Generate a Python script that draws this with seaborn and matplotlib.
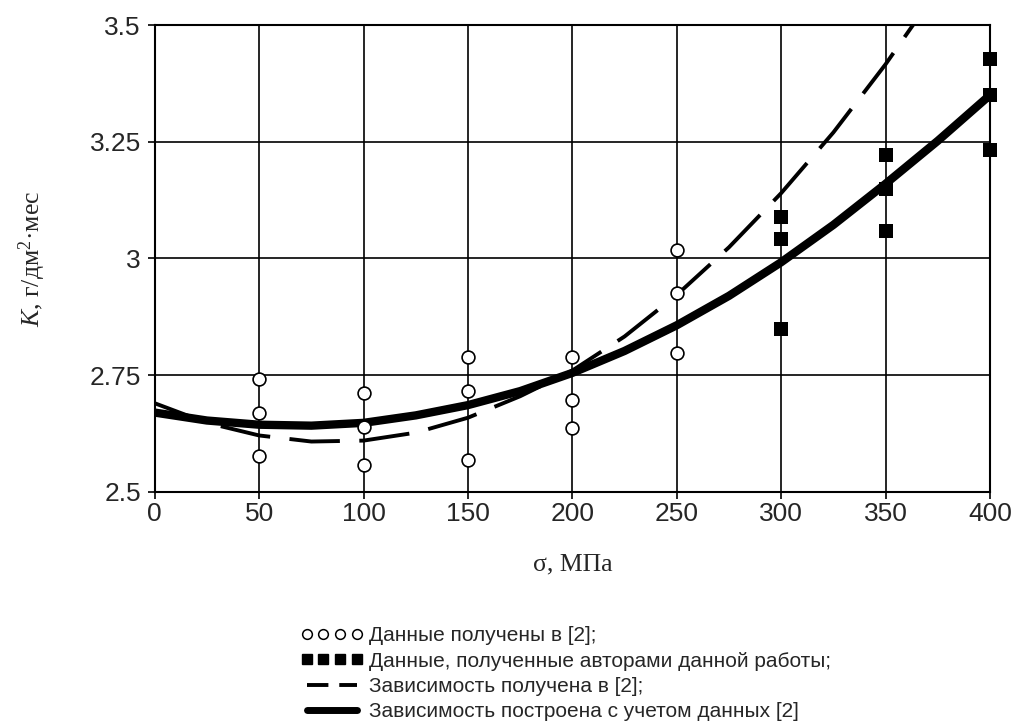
import matplotlib
matplotlib.use("Agg")
import matplotlib.pyplot as plt
from matplotlib.lines import Line2D
import seaborn as sns
import pandas as pd

# Данные из [2] (открытые кружки)
sigma_lit = [50, 50, 50, 100, 100, 100, 150, 150, 150, 200, 200, 200, 250, 250, 250]
k_lit = [2.742, 2.669, 2.577, 2.712, 2.639, 2.558, 2.789, 2.716, 2.569,
         2.789, 2.697, 2.637, 3.018, 2.926, 2.798]

# Данные авторов (чёрные квадраты)
sigma_own = [300, 300, 300, 350, 350, 350, 400, 400, 400]
k_own = [3.089, 3.042, 2.849, 3.222, 3.149, 3.059, 3.427, 3.350, 3.232]

# Кривые зависимостей
sigma_curve = [0, 25, 50, 75, 100, 125, 150, 175, 200, 225, 250, 275, 300, 325, 350, 375, 400]
k_dashed = [2.690, 2.648, 2.621, 2.608, 2.610, 2.627, 2.659, 2.705, 2.760,
            2.833, 2.922, 3.024, 3.140, 3.270, 3.416, 3.576, 3.750]
k_solid = [2.670, 2.653, 2.644, 2.642, 2.648, 2.664, 2.686, 2.716, 2.755,
           2.802, 2.857, 2.920, 2.992, 3.072, 3.160, 3.252, 3.350]

x_ticks = [0, 50, 100, 150, 200, 250, 300, 350, 400]
y_ticks = [2.5, 2.75, 3.0, 3.25, 3.5]
y_tick_labels = ["2.5", "2.75", "3", "3.25", "3.5"]

legend_labels = [
    "Данные получены в [2];",
    "Данные, полученные авторами данной работы;",
    "Зависимость получена в [2];",
    "Зависимость построена с учетом данных [2]",
]

sns.set_style("white")
plt.rcParams["font.family"] = ["Liberation Sans", "DejaVu Sans"]
plt.rcParams["mathtext.fontset"] = "custom"
plt.rcParams["mathtext.rm"] = "Liberation Serif"
plt.rcParams["mathtext.it"] = "Liberation Serif:italic"

df_lit = pd.DataFrame({"sigma": sigma_lit, "K": k_lit})
df_own = pd.DataFrame({"sigma": sigma_own, "K": k_own})
df_curve = pd.DataFrame({"sigma": sigma_curve, "dashed": k_dashed, "solid": k_solid})

fig = plt.figure(figsize=(10.18, 7.27), dpi=100)
ax = fig.add_axes([0.152, 0.3233, 0.8205, 0.6423])

# Кривые
sns.lineplot(data=df_curve, x="sigma", y="dashed", ax=ax, color="black",
             linewidth=2.8, zorder=3)
ax.lines[-1].set_dashes((13, 5))
sns.lineplot(data=df_curve, x="sigma", y="solid", ax=ax, color="black",
             linewidth=6, zorder=4)

# Точки
sns.scatterplot(data=df_lit, x="sigma", y="K", ax=ax, marker="o", s=85,
                facecolor="white", edgecolor="black", linewidth=1.2,
                zorder=5, clip_on=False)
sns.scatterplot(data=df_own, x="sigma", y="K", ax=ax, marker="s", s=110,
                color="black", edgecolor="black", linewidth=0,
                zorder=5, clip_on=False)

ax.set_xlim(0, 400)
ax.set_ylim(2.5, 3.5)
ax.set_xticks(x_ticks)
ax.set_yticks(y_ticks)
ax.set_yticklabels(y_tick_labels)
ax.tick_params(axis="both", labelsize=19, direction="out", length=5,
               width=1.2, color="black", left=True, bottom=True)
ax.tick_params(axis="y", pad=5)
ax.tick_params(axis="x", pad=2)
ax.grid(True, color="black", linewidth=1.2)
ax.set_axisbelow(True)
for s in ax.spines.values():
    s.set_color("black")
    s.set_linewidth(1.5)

ax.set_xlabel("σ, МПа", fontsize=18.5, family="Liberation Serif", labelpad=20)
ax.set_ylabel(r"$K$, г/дм$^2$·мес", fontsize=18.5, family="Liberation Serif", labelpad=30)

# Легенда
legend_elements = [
    Line2D([0], [0], marker="o", color="w", markerfacecolor="white",
           markeredgecolor="black", markersize=7, markeredgewidth=1.1, linestyle="none"),
    Line2D([0], [0], marker="s", color="w", markerfacecolor="black",
           markeredgecolor="black", markersize=7, linestyle="none"),
    Line2D([0], [0], color="black", linewidth=2.8, dashes=(5.5, 2.8)),
    Line2D([0], [0], color="black", linewidth=5),
]
fig.legend(handles=legend_elements, labels=legend_labels, loc="upper left",
           bbox_to_anchor=(290 / 1018, 1 - 616 / 727), frameon=False,
           fontsize=15, numpoints=4, handlelength=3.0, handletextpad=0.3,
           labelspacing=0.3, borderpad=0)

fig.savefig("out.png", dpi=100)
